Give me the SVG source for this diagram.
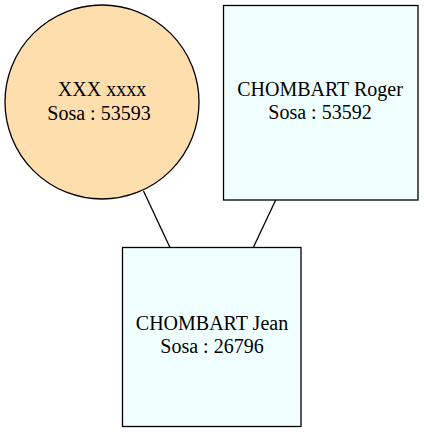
<svg xmlns="http://www.w3.org/2000/svg" width="424" height="432" viewBox="0 0 424 432">
<style>
.n{stroke:#000;stroke-width:1.3}
.f{fill:#FFDEAD}
.m{fill:#F0FFFF}
text{font-family:"Liberation Serif","Times New Roman",serif;font-size:20px;fill:#000;text-anchor:middle}
.e{stroke:#000;stroke-width:1.3;fill:none}
</style>
<rect width="424" height="432" fill="#fff"/>
<g id="edges">
<line class="e" x1="143.5" y1="191" x2="170" y2="247.5"/>
<line class="e" x1="275.7" y1="200" x2="253.3" y2="247.5"/>
</g>
<g id="n53593">
<circle class="n f" cx="102" cy="102" r="97"/>
<text x="102" y="96">XXX xxxx</text>
<text x="99" y="119.5">Sosa : 53593</text>
</g>
<g id="n53592">
<rect class="n m" x="223.5" y="5.5" width="194.5" height="194.5"/>
<text x="320" y="95.5">CHOMBART Roger</text>
<text x="320" y="118.5">Sosa : 53592</text>
</g>
<g id="n26796">
<rect class="n m" x="122.5" y="247.5" width="178.5" height="179"/>
<text x="212" y="330">CHOMBART Jean</text>
<text x="212" y="353">Sosa : 26796</text>
</g>
</svg>
